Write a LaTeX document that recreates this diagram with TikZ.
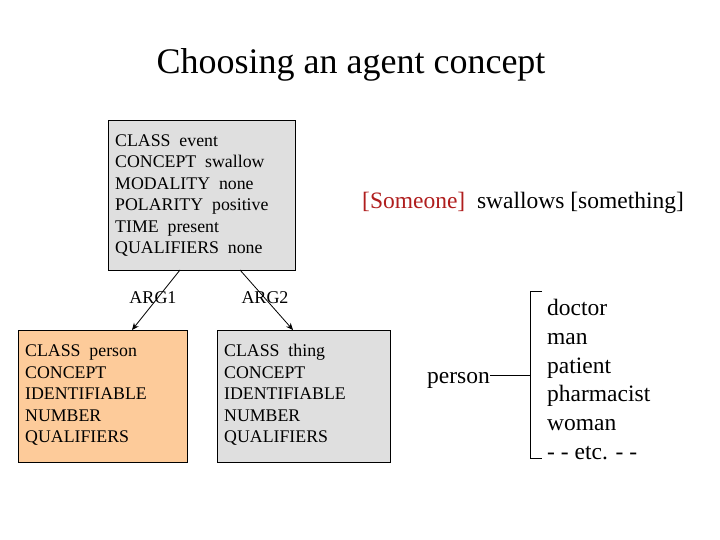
\documentclass[tikz,border=0pt]{standalone}
\usepackage{fontspec}
\setmainfont{Liberation Serif}
\usetikzlibrary{arrows.meta}
\definecolor{boxgray}{HTML}{DFDFDF}
\definecolor{peach}{HTML}{FDCB9A}
\definecolor{darkred}{HTML}{B01E1E}
\begin{document}
\begin{tikzpicture}[x=1pt,y=-1pt,
  feattext/.style={anchor=west, font=\fontsize{17.8}{21}\selectfont, inner sep=0pt, text height=14pt, text depth=3pt},
  listtext/.style={anchor=west, font=\fontsize{23.5}{28}\selectfont, inner sep=0pt, text height=20pt, text depth=3pt},
  arglabel/.style={font=\fontsize{18}{21}\selectfont, inner sep=0pt},
  conn/.style={line width=0.8pt, -{Stealth[length=7pt,width=6pt]}}]
\useasboundingbox (0,0) rectangle (720,540);
\fill[white] (0,0) rectangle (720,540);
% title
\node[font=\fontsize{36}{42}\selectfont, inner sep=0pt] (title) at (351,65) {Choosing an agent concept};
% top box
\draw[fill=boxgray, line width=0.8pt] (108,120) rectangle (295,270);
\coordinate (topL) at (180,270);
\coordinate (topR) at (240,270);
\node[feattext] (t1) at (115,141) {CLASS\ \ event};
\node[feattext] (t2) at (115,162.5) {CONCEPT\ \ swallow};
\node[feattext] (t3) at (115,184) {MODALITY\ \ none};
\node[feattext] (t4) at (115,205.5) {POLARITY\ \ positive};
\node[feattext] (t5) at (115,227) {TIME\ \ present};
\node[feattext] (t6) at (115,248.5) {QUALIFIERS\ \ none};
% bottom boxes
\draw[fill=peach, line width=0.8pt] (18,330) rectangle (187,462);
\draw[fill=boxgray, line width=0.8pt] (217,330) rectangle (390,462);
\coordinate (botL) at (132,330);
\coordinate (botR) at (293,330);
\node[feattext] (l1) at (25,351) {CLASS\ \ person};
\node[feattext] (l2) at (25,372.5) {CONCEPT};
\node[feattext] (l3) at (25,394) {IDENTIFIABLE};
\node[feattext] (l4) at (25,415.5) {NUMBER};
\node[feattext] (l5) at (25,437) {QUALIFIERS};
\node[feattext] (r1) at (224,351) {CLASS\ \ thing};
\node[feattext] (r2) at (224,372.5) {CONCEPT};
\node[feattext] (r3) at (224,394) {IDENTIFIABLE};
\node[feattext] (r4) at (224,415.5) {NUMBER};
\node[feattext] (r5) at (224,437) {QUALIFIERS};
% arg labels and arrows
\node[arglabel] (arg1) at (153,298) {ARG1};
\node[arglabel] (arg2) at (265,298) {ARG2};
\draw[conn] (topL) -- (botL);
\draw[conn] (topR) -- (botR);
% sentence
\node[anchor=west, inner sep=0pt, font=\fontsize{23.5}{28}\selectfont] (sent) at (362,203) {\textcolor{darkred}{[Someone]}\ \ swallows [something]};
% person list
\node[anchor=east, inner sep=0pt, font=\fontsize{23.5}{28}\selectfont, text height=20pt, text depth=3pt] (person) at (490,375) {person};
\coordinate (br) at (530,375);
\draw[line width=0.8pt] (person.east) -- (person.east -| br);
\draw[line width=0.8pt] (542,291) -- (530,291) -- (530,458) -- (542,458);
\node[listtext] (d1) at (547,307) {doctor};
\node[listtext] (d2) at (547,336) {man};
\node[listtext] (d3) at (547,364.5) {patient};
\node[listtext] (d4) at (547,393) {pharmacist};
\node[listtext] (d5) at (547,422) {woman};
\node[listtext] (d6) at (547,451) {- - etc. - -};
\end{tikzpicture}
\end{document}
